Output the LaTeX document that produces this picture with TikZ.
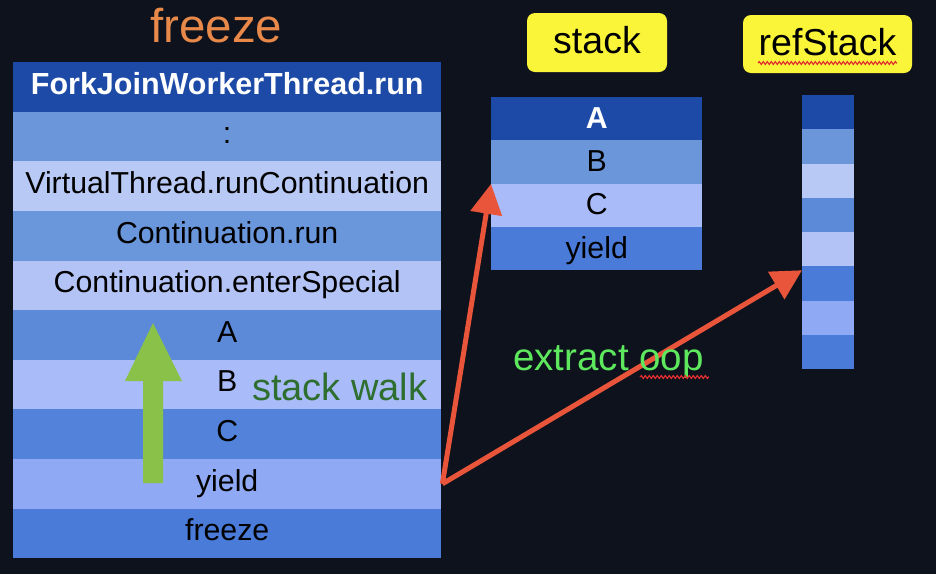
\documentclass[tikz,border=0pt]{standalone}
\usepackage{fontspec}
\setmainfont{Liberation Sans}
\usetikzlibrary{arrows.meta,decorations.pathmorphing,calc}
\definecolor{bg}{HTML}{0E121D}
\definecolor{dkblue}{HTML}{1C4AA6}
\definecolor{cA}{HTML}{6B97DA}
\definecolor{cB}{HTML}{B9C9F5}
\definecolor{cC}{HTML}{6A96DC}
\definecolor{cD}{HTML}{B3C3F5}
\definecolor{cE}{HTML}{5C8AD8}
\definecolor{cF}{HTML}{A9BBF9}
\definecolor{cG}{HTML}{5282D9}
\definecolor{cH}{HTML}{8FA9F4}
\definecolor{cI}{HTML}{4A7BD9}
\definecolor{orangeT}{HTML}{E8894A}
\definecolor{greenDk}{HTML}{2E6E2E}
\definecolor{greenLt}{HTML}{5EE85E}
\definecolor{greenArr}{HTML}{8AC249}
\definecolor{redArr}{HTML}{E9553B}
\definecolor{yel}{HTML}{FBF53A}
\definecolor{wavy}{HTML}{E03030}
\begin{document}
\begin{tikzpicture}[x=1pt,y=-1pt,
  rowL/.style={minimum width=428pt, minimum height=49.6pt, inner sep=0pt, anchor=north west,
    font=\fontsize{30.3}{34}\selectfont, text=black, text height=21.5pt, text depth=7pt},
  rowS/.style={minimum width=211pt, minimum height=43.25pt, inner sep=0pt, anchor=north west,
    font=\fontsize{30.3}{34}\selectfont, text=black, text height=22pt, text depth=3pt},
  rowQ/.style={minimum width=52pt, minimum height=34.25pt, inner sep=0pt, anchor=north west},
  tag/.style={fill=yel, rounded corners=8pt, inner sep=0pt, font=\fontsize{37.5}{42}\selectfont,
    text=black, text height=27pt, text depth=5pt},
  redarrow/.style={draw=redArr, line width=5pt, -{Triangle[length=30pt,width=31pt]}},
  squiggle/.style={draw=wavy, line width=1.2pt, decorate, decoration={snake, amplitude=1.4pt, segment length=4pt}}
]
\fill[bg] (0,0) rectangle (936,574);
\useasboundingbox (0,0) rectangle (936,574);

% title
\node[anchor=base west, inner sep=0pt, text=orangeT, font=\fontsize{47.5}{52}\selectfont] (title) at (150,42) {freeze};

% left stack
\node[rowL, fill=dkblue, text=white, font=\fontsize{30.5}{34}\selectfont\bfseries] (r1) at (13,62) {ForkJoinWorkerThread.run};
\node[rowL, fill=cA] (r2) at (13,111.6) {:};
\node[rowL, fill=cB] (r3) at (13,161.2) {VirtualThread.runContinuation};
\node[rowL, fill=cC] (r4) at (13,210.8) {Continuation.run};
\node[rowL, fill=cD] (r5) at (13,260.4) {Continuation.enterSpecial};
\node[rowL, fill=cE] (r6) at (13,310) {A};
\node[rowL, fill=cF] (r7) at (13,359.6) {B};
\node[rowL, fill=cG] (r8) at (13,409.2) {C};
\node[rowL, fill=cH] (r9) at (13,458.8) {yield};
\node[rowL, fill=cI] (r10) at (13,508.4) {freeze};

% green block arrow
\fill[greenArr] (143,483) -- (143,381) -- (125,381) -- (153,323) -- (182,381) -- (163,381) -- (163,483) -- cycle;
\node[anchor=base west, inner sep=0pt, text=greenDk, font=\fontsize{38}{42}\selectfont] (walk) at (252,400) {stack walk};

% stack labels
\node[tag, minimum width=140pt, minimum height=59pt] (stacktag) at (597,42.5) {stack};
\node[tag, minimum width=169pt, minimum height=58pt] (reftag) at (827.5,44) {refStack};
\draw[squiggle] (758,63) -- (897,63);

% stack box
\node[rowS, fill=dkblue, text=white, font=\fontsize{30.3}{34}\selectfont\bfseries] (s1) at (491,97) {A};
\node[rowS, fill=cA] (s2) at (491,140.25) {B};
\node[rowS, fill=cF] (s3) at (491,183.5) {C};
\node[rowS, fill=cI] (s4) at (491,226.75) {yield};

% refStack column
\node[rowQ, fill=dkblue] (q1) at (802,95) {};
\node[rowQ, fill=cA] (q2) at (802,129.25) {};
\node[rowQ, fill=cB] (q3) at (802,163.5) {};
\node[rowQ, fill=cE] (q4) at (802,197.75) {};
\node[rowQ, fill=cD] (q5) at (802,232) {};
\node[rowQ, fill=cI] (q6) at (802,266.25) {};
\node[rowQ, fill=cH] (q7) at (802,300.5) {};
\node[rowQ, fill=cI] (q8) at (802,334.75) {};

% red arrows
\draw[redarrow] ([xshift=1pt]r9.east) -- (s2.south west);
\draw[redarrow] ([xshift=1pt]r9.east) -- ([yshift=-4pt]q6.north west);

% extract oop
\node[anchor=base west, inner sep=0pt, text=greenLt, font=\fontsize{38.5}{42}\selectfont] (oop) at (513,370) {extract oop};
\draw[squiggle] (640,377) -- (709,377);
\end{tikzpicture}
\end{document}
